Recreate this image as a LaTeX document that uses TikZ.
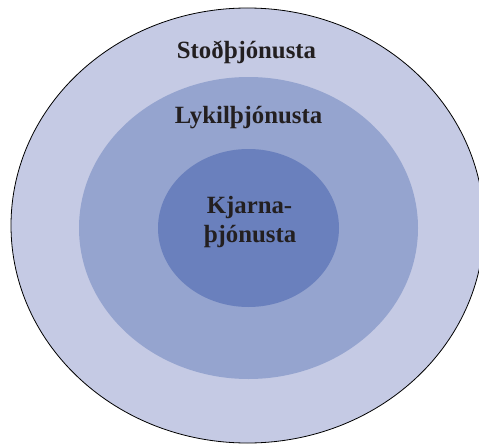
\documentclass[tikz,border=0pt]{standalone}
\usepackage{fontspec}
\setmainfont{Liberation Serif}
\usetikzlibrary{shapes.geometric}
\definecolor{ringA}{RGB}{197,202,228}
\definecolor{ringB}{RGB}{149,164,207}
\definecolor{ringC}{RGB}{106,128,189}
\definecolor{txt}{RGB}{35,31,32}
\tikzset{
  layer/.style={ellipse, inner sep=0pt, outer sep=0pt},
  lbl/.style={anchor=base, inner sep=0pt, text=txt, font=\fontsize{24.8}{29}\selectfont\bfseries}
}
\begin{document}
\begin{tikzpicture}[x=1pt,y=1pt]
\useasboundingbox (0,0) rectangle (479,-444);
\node[layer, fill=ringA, draw=black, line width=0.8pt, minimum width=473pt, minimum height=435pt] (outer) at (247.5,-225.5) {};
\node[layer, fill=ringB, minimum width=339pt, minimum height=302pt] (middle) at (248.5,-228) {};
\node[layer, fill=ringC, minimum width=181pt, minimum height=158pt] (inner) at (248.5,-228) {};
\node[lbl] (t1) at (246.5,-58.5) {Stoðþjónusta};
\node[lbl] (t2) at (248.5,-123) {Lykilþjónusta};
\node[lbl] (t3) at (249.5,-213) {Kjarna-};
\node[lbl] (t4) at (250,-242) {þjónusta};
\end{tikzpicture}
\end{document}
